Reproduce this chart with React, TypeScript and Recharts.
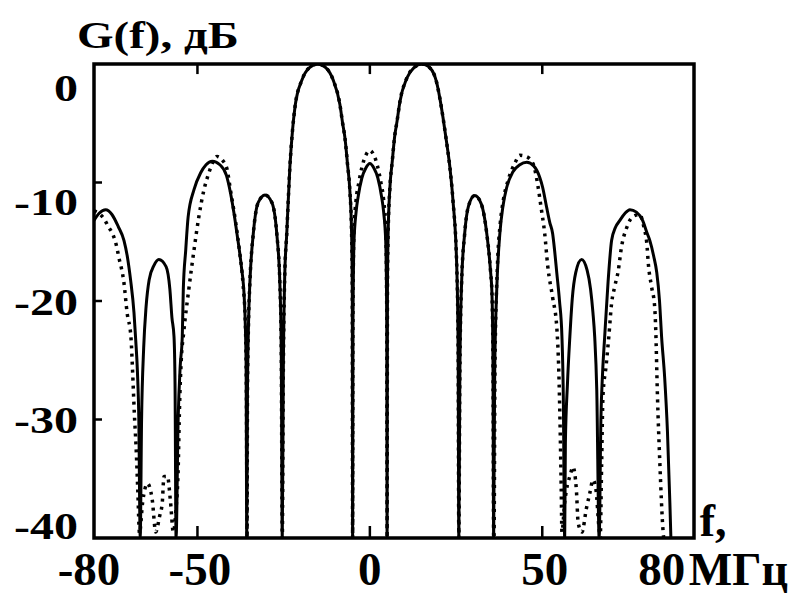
import React from "react";
import { LineChart, Line, XAxis, YAxis, ReferenceArea, ReferenceLine } from "recharts";

// f (MHz), G (dB) pairs
const solidLeft: number[][] = [
  [-80, -13.2], [-78.5, -12.6], [-76.6, -12.3], [-74.8, -12.7], [-73, -13.7], [-71.3, -14.9], [-70.3, -16.3],
  [-69.4, -18.2], [-68.4, -21], [-67.9, -23.3], [-67.4, -26], [-67, -30], [-66.6, -40],
  [-66.2, -30], [-65.6, -24], [-64.9, -20.5], [-64, -18.2], [-62.6, -17], [-61.2, -16.5], [-59.1, -17.1],
  [-58, -19], [-57.4, -21.4], [-56.8, -23], [-56.5, -27], [-56.2, -40],
  [-55.6, -30], [-55, -25.5], [-54.4, -23], [-54.1, -19], [-53.4, -15.7], [-52.7, -12.9], [-51, -10.6],
  [-49.1, -9.2], [-47.5, -8.5], [-45.7, -8.2], [-43.5, -8.5], [-41.6, -9.4], [-40.4, -10.9], [-39.4, -12.6],
  [-38.5, -14.4], [-37.3, -17], [-36.4, -19.9], [-35.9, -25], [-35.7, -40],
];
const solidCore: number[][] = [
  [-35.5, -28], [-35.2, -22], [-34.8, -18.5], [-33.8, -14.3], [-32.4, -11.7], [-30.4, -11.05], [-28.4, -11.7],
  [-27, -14.3], [-26.1, -18.5], [-25.7, -24], [-25.4, -40],
  [-25.1, -26], [-24.7, -18], [-24.1, -14.3], [-23.2, -8.7], [-22.4, -5.5], [-21.7, -3.6], [-19.7, -1.35],
  [-17.5, -0.3], [-15.1, 0], [-12.8, -0.3], [-10.7, -1.3], [-8.7, -3.4], [-7.9, -5], [-7.2, -6.3], [-6.5, -8.4],
  [-5.8, -10.7], [-5.3, -14.3], [-5.1, -19], [-5, -40],
];
const solidCenter: number[][] = [
  [-4.9, -22], [-4.6, -15], [-4, -12.5], [-3.4, -11.2], [-2.3, -9.6], [-1.2, -8.8], [0, -8.4],
  [1.2, -8.8], [2.3, -9.6], [3.4, -11.2], [4, -12.5], [4.6, -15], [4.9, -22], [5, -40],
];
const dottedCenter: number[][] = [
  [-4.9, -21], [-4.6, -14], [-4, -11.5], [-3.2, -10], [-2.2, -8.6], [-1, -7.6], [0, -7.3],
  [1, -7.6], [2.2, -8.6], [3.2, -10], [4, -11.5], [4.6, -14], [4.9, -21], [5, -40],
];
const solidCoreRight: number[][] = [
  [5.1, -19], [5.3, -14.3], [5.8, -10.5], [6.5, -8.2], [7.2, -6.1], [7.9, -4.8], [8.7, -3.2], [10.7, -1.2],
  [12.8, -0.3], [15.1, 0], [17.5, -0.35], [19.4, -1.6], [20.3, -2.9], [21.2, -4.5], [22.2, -6.5], [23.2, -8.7],
  [24.1, -11.5], [25.2, -17.1], [25.6, -24], [25.8, -40],
  [26.1, -26], [26.6, -18.5], [27.5, -14.3], [28.6, -12], [30.4, -11.1], [32.3, -11.8], [33.9, -14.3],
  [35, -17.5], [35.4, -19.3], [35.7, -25], [35.9, -40],
];
const solidRight: number[][] = [
  [36.2, -26], [36.8, -19], [37.7, -14.3], [38.6, -12], [39.7, -10.4], [41.5, -9.1], [43.5, -8.5], [45.5, -8.3],
  [47.5, -8.6], [49.3, -9.6], [50.1, -10.4], [51.2, -12], [52.2, -13.4], [53, -14.3], [53.6, -15.8], [54.2, -17.6],
  [55, -20], [55.7, -23], [56.1, -28], [56.5, -40],
  [56.7, -32], [57.3, -27], [58, -23], [58.7, -19.8], [59.7, -17.6], [61.4, -16.5], [63, -17.4], [64, -19],
  [64.7, -21], [65.2, -23], [65.8, -27.5], [66.5, -40],
  [67, -30], [67.5, -26], [68.1, -23], [69.1, -18.3], [70.1, -14.9], [71.2, -13.8], [72.5, -13.2], [74, -12.6],
  [75.4, -12.3], [77.3, -12.5], [79.1, -13.2], [80.3, -14.2], [81.2, -14.9], [82.3, -16.2], [83.2, -17.6],
  [84, -20], [84.6, -23], [85.5, -26.5], [86.3, -31], [87, -37], [87.3, -40],
];
const dottedLeft: number[][] = [
  [-80, -12.4], [-78.6, -12.6], [-77, -13.1], [-75.7, -13.8], [-74.5, -14.4], [-73.6, -15.2], [-72.8, -16.3],
  [-71.3, -18.5], [-70.4, -21], [-69.3, -23], [-68.8, -26], [-68.3, -29.5], [-67.8, -32.3], [-67.3, -36], [-66.8, -39.6],
  [-65.9, -37], [-64.5, -35.4], [-63.1, -36.8], [-62.1, -39.5], [-61, -38.2], [-60.2, -37], [-59.7, -34.8],
  [-58.7, -34.8], [-57.8, -37], [-57, -39.5], [-56.2, -37.5], [-55.6, -34.3], [-55.2, -29], [-54.7, -25],
  [-54, -22.7], [-52.5, -19], [-51, -15.7], [-49.6, -12.9], [-48.1, -10.6], [-46.7, -9.2], [-45.4, -8.2],
  [-44.3, -7.8], [-42.8, -8.1], [-41.4, -8.9], [-40.5, -10.5], [-39, -13.2], [-37.8, -15.8], [-36.8, -18.5],
  [-36.1, -22], [-35.8, -28], [-35.6, -40],
];
const dottedRight: number[][] = [
  [36, -40], [36.3, -25], [37, -17], [37.8, -13.5], [38.7, -11.5], [40.1, -9.8], [42, -8.4], [43.5, -7.7],
  [45.3, -7.8], [47.3, -8.4], [48.8, -10.4], [49.6, -12], [50.7, -14.3], [51.6, -17.1], [53, -19.7], [54.2, -22.2],
  [54.8, -26], [55.2, -31], [55.5, -36], [55.7, -39.5],
  [56.5, -37], [57.3, -35.5], [58, -34.8], [58.9, -34], [59.9, -36], [60.4, -38.7], [61.5, -39.5], [62.8, -37.5],
  [63.8, -36.2], [64.7, -35.1], [65.6, -36], [66.4, -39], [66.8, -40],
  [67.2, -34], [67.6, -28], [68.5, -25.5], [69.3, -23], [70.1, -20.2], [71, -18.8], [72, -17.5], [73, -15.4],
  [74.5, -13.8], [76.2, -12.9], [78.3, -12.7], [79.5, -13.8], [80.3, -15.1], [80.8, -17], [81.7, -18.8],
  [82.6, -20.5], [82.9, -22.4], [83.4, -28], [84.1, -33.7], [85, -39.3], [85.2, -40],
];

const xTicks = [-80, -50, 0, 50, 80];
const yTicks = [0, -10, -20, -30, -40];
const innerTicksX = [-50, 0, 50];
const innerTicksY = [-10, -20, -30];
const xUnit = "МГц";
const xName = "f,";
const yTitle = "G(f), дБ";

const toRows = (arr: number[][]) => arr.map(([f, g]) => ({ f, g }));
const solidData = toRows([...solidLeft, ...solidCore, ...solidCenter, ...solidCoreRight, ...solidRight]);
const dottedData = toRows([...dottedLeft, ...solidCore, ...dottedCenter, ...solidCoreRight, ...dottedRight]);

const FONT = '"Liberation Serif", "Times New Roman", serif';

const XTick = (props: any) => {
  const { x, y, payload } = props;
  const v = payload.value;
  const dx = v === -80 ? -5 : v === 80 ? 16 : v === -50 || v === 50 ? 2.5 : 0;
  return (
    <g>
      {innerTicksX.includes(v) && <line x1={x} x2={x} y1={y} y2={y - 12} stroke="#000" strokeWidth={2.5} />}
      <text x={x + dx} y={y + 47} textAnchor="middle" fontFamily={FONT} fontWeight="bold" fontSize={47} fill="#000">
        {String(v)}
      </text>
      {v === 80 && (
        <>
          <text x={x + 43} y={y + 47} textAnchor="start" fontFamily={FONT} fontWeight="bold" fontSize={46} fill="#000">
            {xUnit}
          </text>
          <text x={x + 54} y={y - 2} textAnchor="start" fontFamily={FONT} fontWeight="bold" fontSize={46} fill="#000">
            {xName}
          </text>
        </>
      )}
    </g>
  );
};

const yLabelDy: Record<number, number> = { 0: 24, [-10]: 19.5, [-20]: 1, [-30]: 0.5, [-40]: -12 };

const YTick = (props: any) => {
  const { x, y, payload } = props;
  const v = payload.value;
  return (
    <g>
      {innerTicksY.includes(v) && <line x1={x} x2={x + 8} y1={y} y2={y} stroke="#000" strokeWidth={2.5} />}
      <text
        transform={`translate(${x - 16},${y + (yLabelDy[v] ?? 0)}) scale(1,0.78)`}
        x={0}
        y={0}
        textAnchor="end"
        dominantBaseline="central"
        fontFamily={FONT}
        fontWeight="bold"
        fontSize={48}
        fill="#000"
      >
        {String(v)}
      </text>
      {v === 0 && (
        <text
          transform={`translate(${x - 17},${y - 16}) scale(1,0.82)`}
          x={0}
          y={0}
          textAnchor="start"
          fontFamily={FONT}
          fontWeight="bold"
          fontSize={47}
          fill="#000"
        >
          {yTitle}
        </text>
      )}
    </g>
  );
};

export default function App() {
  return (
    <LineChart width={800} height={586} margin={{ top: 56, right: 114, bottom: 0, left: 0 }}>
      <XAxis
        type="number"
        dataKey="f"
        domain={[-80, 94]}
        ticks={xTicks}
        interval={0}
        tick={<XTick />}
        tickLine={false}
        axisLine={false}
        tickSize={0}
        tickMargin={0}
        height={56}
        allowDataOverflow
      />
      <YAxis
        type="number"
        dataKey="g"
        domain={[-40, 0]}
        ticks={yTicks}
        interval={0}
        tick={<YTick />}
        tickLine={false}
        axisLine={false}
        tickSize={0}
        tickMargin={0}
        width={86}
        allowDataOverflow
      />
      <Line
        data={dottedData}
        dataKey="g"
        type="monotone"
        stroke="#000"
        strokeWidth={3.5}
        strokeDasharray="3 5"
        dot={false}
        isAnimationActive={false}
      />
      <Line
        data={solidData}
        dataKey="g"
        type="monotone"
        stroke="#000"
        strokeWidth={3}
        dot={false}
        isAnimationActive={false}
      />
      {innerTicksX.map((t) => (
        <ReferenceLine
          key={t}
          segment={[{ x: t, y: 0 }, { x: t, y: -0.85 }]}
          stroke="#000"
          strokeWidth={2.5}
        />
      ))}
      <ReferenceArea x1={-80} x2={94} y1={-40} y2={0} fill="none" stroke="#000" strokeWidth={3.5} fillOpacity={0} />
    </LineChart>
  );
}
